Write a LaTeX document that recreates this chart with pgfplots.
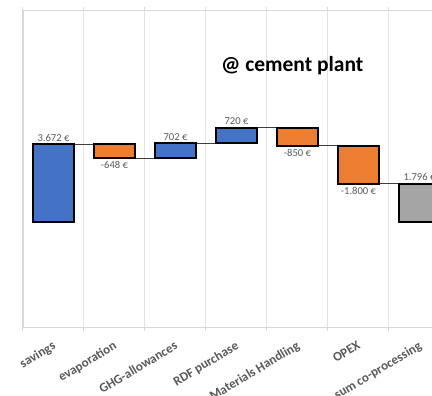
\documentclass[border=0pt]{standalone}
\usepackage{pgfplots}
\pgfplotsset{compat=1.18}
\usepackage{fontspec}
\setmainfont{Carlito}
\definecolor{xblue}{HTML}{4472C4}
\definecolor{xorange}{HTML}{ED7D31}
\definecolor{xgray}{HTML}{A5A5A5}
\definecolor{lbl}{HTML}{595959}
\definecolor{axgray}{HTML}{D9D9D9}
\definecolor{grd}{HTML}{E3E3E3}
\begin{document}
\begin{tikzpicture}
\pgfplotsset{
  wf/.style={scale only axis, width=427bp, height=317bp, xmin=-0.5, xmax=6.5, ymin=-5000, ymax=10000},
  barst/.style={draw=black, line width=2bp},
}
\begin{axis}[wf, name=main, ybar stacked, bar width=41bp,
  axis line style={axgray, line width=1.3bp},
  ytick=\empty,
  xtick={0,...,6},
  xticklabels={savings, evaporation, GHG-allowances, RDF purchase, Materials Handling, OPEX, sum co-processing},
  major tick length=0pt,
  minor xtick={-0.5,0.5,1.5,2.5,3.5,4.5,5.5,6.5},
  xminorgrids=true,
  minor grid style={color=grd, line width=1bp},
  minor tick length=3bp, tick align=outside,
  minor x tick style={axgray, line width=1bp},
  xticklabel style={rotate=31, anchor=north east, inner sep=0pt, xshift=-8bp, yshift=-10bp,
     font=\bfseries\fontsize{13bp}{15bp}\selectfont, text=lbl},
]
\addplot[draw=none, fill=none] coordinates {(0,0)(1,3024)(2,3024)(3,3726)(4,3596)(5,1796)(6,0)};
\addplot[barst, fill=xblue] coordinates {(0,3672)(1,0)(2,702)(3,720)(4,0)(5,0)(6,0)};
\addplot[barst, fill=xorange] coordinates {(0,0)(1,648)(2,0)(3,0)(4,850)(5,1800)(6,0)};
\addplot[barst, fill=xgray] coordinates {(0,0)(1,0)(2,0)(3,0)(4,0)(5,0)(6,1796)};
\end{axis}
\begin{axis}[wf, hide axis, clip=false]
\addplot[black!75, line width=0.8bp, unbounded coords=jump] coordinates {
  (0.35,3672)(0.65,3672)(nan,nan)
  (1.35,3024)(1.65,3024)(nan,nan)
  (2.35,3726)(2.65,3726)(nan,nan)
  (3.35,4446)(3.65,4446)(nan,nan)
  (4.35,3596)(4.65,3596)(nan,nan)
  (5.35,1796)(5.65,1796)};
\addplot[only marks, mark=none, nodes near coords, point meta=explicit symbolic,
  nodes near coords style={anchor=base, yshift=3bp, inner sep=0pt, text=lbl, font=\fontsize{10.6bp}{12bp}\selectfont}]
  coordinates {(0,3672)[3.672 €] (2,3726)[702 €] (3,4446)[720 €] (6,1796)[1.796 €]};
\addplot[only marks, mark=none, nodes near coords, point meta=explicit symbolic,
  nodes near coords style={anchor=base, yshift=-10.5bp, inner sep=0pt, text=lbl, font=\fontsize{10.6bp}{12bp}\selectfont}]
  coordinates {(1,3024)[-648 €] (4,3596)[-850 €] (5,1796)[-1.800 €]};
\node[anchor=base west, inner sep=0pt, font=\bfseries\fontsize{21.5bp}{24bp}\selectfont] at (rel axis cs:0.4637,0.809) {@ cement plant};
\end{axis}
\pgfresetboundingbox
\useasboundingbox ([xshift=-23bp,yshift=-68.5bp]main.south west) rectangle ([xshift=409bp,yshift=10.5bp]main.north west);
\end{tikzpicture}
\end{document}
